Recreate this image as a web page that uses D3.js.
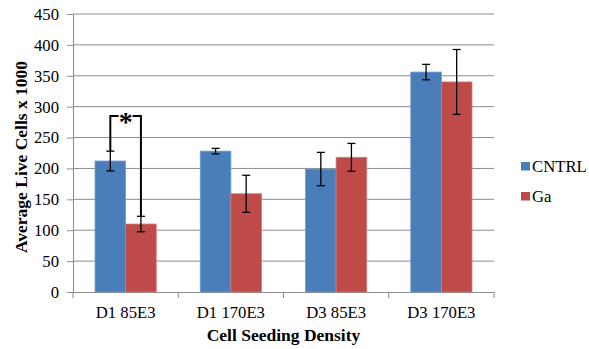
<!DOCTYPE html>
<html><head><meta charset="utf-8">
<script src="https://cdn.jsdelivr.net/npm/d3@7"></script>
<style>body{margin:0;background:#fff}svg{display:block}</style>
</head><body><svg id="c" width="589" height="349" font-family="'Liberation Serif', 'Times New Roman', Times, 'DejaVu Serif', serif"></svg>
<script>
const categories = ["D1 85E3","D1 170E3","D3 85E3","D3 170E3"];
const seriesNames = ["CNTRL","Ga"];
const cntrl = [212, 228, 199, 356];
const cntrlErr = [16, 4.5, 27, 12.5];
const ga = [110, 159, 218, 340];
const gaErr = [12.5, 30, 22.5, 52.5];
const yTicks = [0,50,100,150,200,250,300,350,400,450];
const colors = ["#4a7ebb","#be4b48"];
const FONT = "'Liberation Serif', 'Times New Roman', Times, 'DejaVu Serif', serif";

const svg = d3.select("#c");
const m = {l:73, r:95, t:14, b:57};
const W = 589, H = 349;
const x = d3.scaleBand().domain(categories).range([m.l, W-m.r]).paddingInner(0).paddingOuter(0);
const x1 = d3.scaleBand().domain(seriesNames).range([0, x.bandwidth()]).paddingInner(0).paddingOuter(0.72);
const y = d3.scaleLinear().domain([0,450]).range([H-m.b, m.t]);

// gridlines
svg.append("g").selectAll("line").data(yTicks.filter(d=>d>0)).join("line")
  .attr("x1", m.l).attr("x2", W-m.r).attr("y1", d=>y(d)).attr("y2", d=>y(d))
  .attr("stroke", "#8c8c8c").attr("stroke-width", 1);

// y axis
const ya = svg.append("g").attr("transform", `translate(${m.l},0)`)
  .call(d3.axisLeft(y).tickValues(yTicks).tickSize(6).tickPadding(8));
ya.attr("font-family", FONT).attr("font-size", 16.7);
ya.select(".domain").attr("stroke","#8c8c8c");
ya.selectAll(".tick line").attr("stroke","#8c8c8c");
ya.selectAll("text").attr("fill","#000");

// x axis
const xa = svg.append("g").attr("transform", `translate(0,${y(0)})`)
  .call(d3.axisBottom(x).tickSize(0).tickPadding(14));
xa.attr("font-family", FONT).attr("font-size", 16.7);
xa.select(".domain").attr("stroke","#8c8c8c");
xa.selectAll("text").attr("fill","#000");
const bounds = [0,1,2,3,4].map(i => m.l + i*x.bandwidth());
svg.append("g").selectAll("line").data(bounds).join("line")
  .attr("x1", d=>d).attr("x2", d=>d).attr("y1", y(0)).attr("y2", y(0)+6)
  .attr("stroke","#8c8c8c");

// bars
const data = [cntrl, ga];
const errs = [cntrlErr, gaErr];
seriesNames.forEach((s, si) => {
  const g = svg.append("g");
  g.selectAll("rect").data(categories).join("rect")
    .attr("x", (c)=>x(c)+x1(s)).attr("width", x1.bandwidth())
    .attr("y", (c,i)=>y(data[si][i])).attr("height", (c,i)=>y(0)-y(data[si][i]))
    .attr("fill", colors[si]).attr("stroke", si===0?"#6f9ad0":"#d07775").attr("stroke-width",0.8);
});
// error bars
seriesNames.forEach((s, si) => {
  const g = svg.append("g").attr("stroke","#000").attr("stroke-width",1.3);
  categories.forEach((c,i) => {
    const cx = x(c)+x1(s)+x1.bandwidth()/2;
    const v = data[si][i], e = errs[si][i];
    g.append("line").attr("x1",cx).attr("x2",cx).attr("y1",y(v+e)).attr("y2",y(v-e));
    g.append("line").attr("x1",cx-4).attr("x2",cx+4).attr("y1",y(v+e)).attr("y2",y(v+e));
    g.append("line").attr("x1",cx-4).attr("x2",cx+4).attr("y1",y(v-e)).attr("y2",y(v-e));
  });
});

// significance bracket
const c0 = categories[0];
const bx1 = x(c0)+x1("CNTRL")+x1.bandwidth()/2;
const bx2 = x(c0)+x1("Ga")+x1.bandwidth()/2;
const by = y(285);
svg.append("path")
  .attr("d", `M${bx1},${y(cntrl[0]+cntrlErr[0])}V${by}H${bx2}V${y(ga[0]+gaErr[0])}`)
  .attr("fill","none").attr("stroke","#000").attr("stroke-width",2);
svg.append("rect").attr("x",(bx1+bx2)/2-7).attr("y",by-4).attr("width",14).attr("height",8).attr("fill","#fff");
svg.append("text").attr("x",(bx1+bx2)/2).attr("y",by+15).attr("text-anchor","middle")
  .attr("font-size",28).attr("font-weight","bold").text("*");

// axis titles
svg.append("text").attr("transform",`translate(27,${(y(0)+y(450))/2+4}) rotate(-90)`)
  .attr("text-anchor","middle").attr("font-size",17.5).attr("font-weight","bold").text("Average Live Cells x 1000");
svg.append("text").attr("x",(m.l+W-m.r)/2).attr("y",341).attr("text-anchor","middle")
  .attr("font-size",17.5).attr("font-weight","bold").text("Cell Seeding Density");

// legend
const lg = svg.append("g");
seriesNames.forEach((s,i) => {
  const ly = 162 + i*30;
  lg.append("rect").attr("x",521).attr("y",ly).attr("width",9).attr("height",8.5).attr("fill",colors[i]);
  lg.append("text").attr("x",532).attr("y",ly+10).attr("font-size",16.7).text(s);
});
</script></body></html>
